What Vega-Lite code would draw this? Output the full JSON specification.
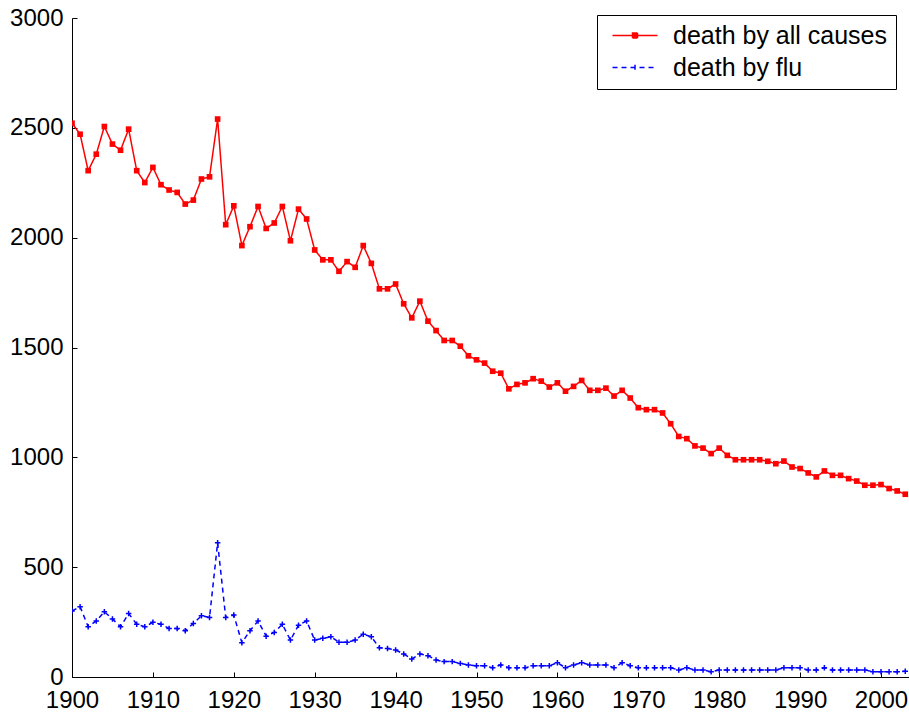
{
  "$schema": "https://vega.github.io/schema/vega-lite/v6.json",
  "width": 837,
  "height": 659,
  "autosize": {"type": "none"},
  "padding": {"left": 72, "top": 18, "right": 0, "bottom": 36},
  "background": "white",
  "config": {
    "view": {"stroke": null},
    "axis": {
      "domainColor": "black", "domainWidth": 1, "tickColor": "black", "tickWidth": 1,
      "tickSize": -5, "labelColor": "black", "labelFont": "Liberation Sans", "labelFontSize": 24,
      "grid": false, "title": null, "labelFlush": false, "labelOverlap": false, "labelBound": false
    }
  },
  "datasets": {
    "deaths": [
      {"year":1900,"series":"death by all causes","deaths":2521},{"year":1901,"series":"death by all causes","deaths":2471},{"year":1902,"series":"death by all causes","deaths":2305},{"year":1903,"series":"death by all causes","deaths":2380},{"year":1904,"series":"death by all causes","deaths":2506},{"year":1905,"series":"death by all causes","deaths":2426},{"year":1906,"series":"death by all causes","deaths":2398},{"year":1907,"series":"death by all causes","deaths":2494},{"year":1908,"series":"death by all causes","deaths":2305},{"year":1909,"series":"death by all causes","deaths":2251},
      {"year":1910,"series":"death by all causes","deaths":2320},{"year":1911,"series":"death by all causes","deaths":2241},{"year":1912,"series":"death by all causes","deaths":2217},{"year":1913,"series":"death by all causes","deaths":2206},{"year":1914,"series":"death by all causes","deaths":2153},{"year":1915,"series":"death by all causes","deaths":2171},{"year":1916,"series":"death by all causes","deaths":2267},{"year":1917,"series":"death by all causes","deaths":2277},{"year":1918,"series":"death by all causes","deaths":2540},{"year":1919,"series":"death by all causes","deaths":2059},
      {"year":1920,"series":"death by all causes","deaths":2145},{"year":1921,"series":"death by all causes","deaths":1964},{"year":1922,"series":"death by all causes","deaths":2050},{"year":1923,"series":"death by all causes","deaths":2142},{"year":1924,"series":"death by all causes","deaths":2042},{"year":1925,"series":"death by all causes","deaths":2067},{"year":1926,"series":"death by all causes","deaths":2142},{"year":1927,"series":"death by all causes","deaths":1986},{"year":1928,"series":"death by all causes","deaths":2130},{"year":1929,"series":"death by all causes","deaths":2085},
      {"year":1930,"series":"death by all causes","deaths":1944},{"year":1931,"series":"death by all causes","deaths":1899},{"year":1932,"series":"death by all causes","deaths":1899},{"year":1933,"series":"death by all causes","deaths":1847},{"year":1934,"series":"death by all causes","deaths":1891},{"year":1935,"series":"death by all causes","deaths":1865},{"year":1936,"series":"death by all causes","deaths":1964},{"year":1937,"series":"death by all causes","deaths":1883},{"year":1938,"series":"death by all causes","deaths":1767},{"year":1939,"series":"death by all causes","deaths":1767},
      {"year":1940,"series":"death by all causes","deaths":1789},{"year":1941,"series":"death by all causes","deaths":1699},{"year":1942,"series":"death by all causes","deaths":1635},{"year":1943,"series":"death by all causes","deaths":1711},{"year":1944,"series":"death by all causes","deaths":1620},{"year":1945,"series":"death by all causes","deaths":1577},{"year":1946,"series":"death by all causes","deaths":1532},{"year":1947,"series":"death by all causes","deaths":1532},{"year":1948,"series":"death by all causes","deaths":1506},{"year":1949,"series":"death by all causes","deaths":1462},
      {"year":1950,"series":"death by all causes","deaths":1444},{"year":1951,"series":"death by all causes","deaths":1429},{"year":1952,"series":"death by all causes","deaths":1392},{"year":1953,"series":"death by all causes","deaths":1383},{"year":1954,"series":"death by all causes","deaths":1312},{"year":1955,"series":"death by all causes","deaths":1332},{"year":1956,"series":"death by all causes","deaths":1339},{"year":1957,"series":"death by all causes","deaths":1358},{"year":1958,"series":"death by all causes","deaths":1347},{"year":1959,"series":"death by all causes","deaths":1320},
      {"year":1960,"series":"death by all causes","deaths":1339},{"year":1961,"series":"death by all causes","deaths":1301},{"year":1962,"series":"death by all causes","deaths":1323},{"year":1963,"series":"death by all causes","deaths":1350},{"year":1964,"series":"death by all causes","deaths":1305},{"year":1965,"series":"death by all causes","deaths":1305},{"year":1966,"series":"death by all causes","deaths":1315},{"year":1967,"series":"death by all causes","deaths":1279},{"year":1968,"series":"death by all causes","deaths":1305},{"year":1969,"series":"death by all causes","deaths":1270},
      {"year":1970,"series":"death by all causes","deaths":1226},{"year":1971,"series":"death by all causes","deaths":1217},{"year":1972,"series":"death by all causes","deaths":1217},{"year":1973,"series":"death by all causes","deaths":1202},{"year":1974,"series":"death by all causes","deaths":1153},{"year":1975,"series":"death by all causes","deaths":1095},{"year":1976,"series":"death by all causes","deaths":1085},{"year":1977,"series":"death by all causes","deaths":1052},{"year":1978,"series":"death by all causes","deaths":1042},{"year":1979,"series":"death by all causes","deaths":1017},
      {"year":1980,"series":"death by all causes","deaths":1042},{"year":1981,"series":"death by all causes","deaths":1009},{"year":1982,"series":"death by all causes","deaths":989},{"year":1983,"series":"death by all causes","deaths":989},{"year":1984,"series":"death by all causes","deaths":989},{"year":1985,"series":"death by all causes","deaths":989},{"year":1986,"series":"death by all causes","deaths":982},{"year":1987,"series":"death by all causes","deaths":971},{"year":1988,"series":"death by all causes","deaths":983},{"year":1989,"series":"death by all causes","deaths":956},
      {"year":1990,"series":"death by all causes","deaths":949},{"year":1991,"series":"death by all causes","deaths":929},{"year":1992,"series":"death by all causes","deaths":911},{"year":1993,"series":"death by all causes","deaths":938},{"year":1994,"series":"death by all causes","deaths":918},{"year":1995,"series":"death by all causes","deaths":918},{"year":1996,"series":"death by all causes","deaths":903},{"year":1997,"series":"death by all causes","deaths":892},{"year":1998,"series":"death by all causes","deaths":873},{"year":1999,"series":"death by all causes","deaths":873},
      {"year":2000,"series":"death by all causes","deaths":876},{"year":2001,"series":"death by all causes","deaths":858},{"year":2002,"series":"death by all causes","deaths":847},{"year":2003,"series":"death by all causes","deaths":832},
      {"year":1900,"series":"death by flu","deaths":300},{"year":1901,"series":"death by flu","deaths":320},{"year":1902,"series":"death by flu","deaths":229},{"year":1903,"series":"death by flu","deaths":255},{"year":1904,"series":"death by flu","deaths":297},{"year":1905,"series":"death by flu","deaths":264},{"year":1906,"series":"death by flu","deaths":229},{"year":1907,"series":"death by flu","deaths":289},{"year":1908,"series":"death by flu","deaths":240},{"year":1909,"series":"death by flu","deaths":229},
      {"year":1910,"series":"death by flu","deaths":249},{"year":1911,"series":"death by flu","deaths":240},{"year":1912,"series":"death by flu","deaths":221},{"year":1913,"series":"death by flu","deaths":221},{"year":1914,"series":"death by flu","deaths":211},{"year":1915,"series":"death by flu","deaths":244},{"year":1916,"series":"death by flu","deaths":279},{"year":1917,"series":"death by flu","deaths":271},{"year":1918,"series":"death by flu","deaths":611},{"year":1919,"series":"death by flu","deaths":271},
      {"year":1920,"series":"death by flu","deaths":282},{"year":1921,"series":"death by flu","deaths":156},{"year":1922,"series":"death by flu","deaths":211},{"year":1923,"series":"death by flu","deaths":255},{"year":1924,"series":"death by flu","deaths":186},{"year":1925,"series":"death by flu","deaths":203},{"year":1926,"series":"death by flu","deaths":240},{"year":1927,"series":"death by flu","deaths":168},{"year":1928,"series":"death by flu","deaths":236},{"year":1929,"series":"death by flu","deaths":255},
      {"year":1930,"series":"death by flu","deaths":168},{"year":1931,"series":"death by flu","deaths":176},{"year":1932,"series":"death by flu","deaths":183},{"year":1933,"series":"death by flu","deaths":158},{"year":1934,"series":"death by flu","deaths":158},{"year":1935,"series":"death by flu","deaths":168},{"year":1936,"series":"death by flu","deaths":195},{"year":1937,"series":"death by flu","deaths":183},{"year":1938,"series":"death by flu","deaths":133},{"year":1939,"series":"death by flu","deaths":130},
      {"year":1940,"series":"death by flu","deaths":123},{"year":1941,"series":"death by flu","deaths":105},{"year":1942,"series":"death by flu","deaths":82},{"year":1943,"series":"death by flu","deaths":105},{"year":1944,"series":"death by flu","deaths":97},{"year":1945,"series":"death by flu","deaths":77},{"year":1946,"series":"death by flu","deaths":70},{"year":1947,"series":"death by flu","deaths":70},{"year":1948,"series":"death by flu","deaths":62},{"year":1949,"series":"death by flu","deaths":55},
      {"year":1950,"series":"death by flu","deaths":51},{"year":1951,"series":"death by flu","deaths":51},{"year":1952,"series":"death by flu","deaths":42},{"year":1953,"series":"death by flu","deaths":55},{"year":1954,"series":"death by flu","deaths":42},{"year":1955,"series":"death by flu","deaths":42},{"year":1956,"series":"death by flu","deaths":42},{"year":1957,"series":"death by flu","deaths":51},{"year":1958,"series":"death by flu","deaths":51},{"year":1959,"series":"death by flu","deaths":51},
      {"year":1960,"series":"death by flu","deaths":65},{"year":1961,"series":"death by flu","deaths":42},{"year":1962,"series":"death by flu","deaths":55},{"year":1963,"series":"death by flu","deaths":65},{"year":1964,"series":"death by flu","deaths":55},{"year":1965,"series":"death by flu","deaths":55},{"year":1966,"series":"death by flu","deaths":55},{"year":1967,"series":"death by flu","deaths":42},{"year":1968,"series":"death by flu","deaths":65},{"year":1969,"series":"death by flu","deaths":51},
      {"year":1970,"series":"death by flu","deaths":42},{"year":1971,"series":"death by flu","deaths":42},{"year":1972,"series":"death by flu","deaths":42},{"year":1973,"series":"death by flu","deaths":42},{"year":1974,"series":"death by flu","deaths":42},{"year":1975,"series":"death by flu","deaths":32},{"year":1976,"series":"death by flu","deaths":42},{"year":1977,"series":"death by flu","deaths":32},{"year":1978,"series":"death by flu","deaths":32},{"year":1979,"series":"death by flu","deaths":24},
      {"year":1980,"series":"death by flu","deaths":32},{"year":1981,"series":"death by flu","deaths":32},{"year":1982,"series":"death by flu","deaths":32},{"year":1983,"series":"death by flu","deaths":32},{"year":1984,"series":"death by flu","deaths":32},{"year":1985,"series":"death by flu","deaths":32},{"year":1986,"series":"death by flu","deaths":32},{"year":1987,"series":"death by flu","deaths":32},{"year":1988,"series":"death by flu","deaths":42},{"year":1989,"series":"death by flu","deaths":42},
      {"year":1990,"series":"death by flu","deaths":42},{"year":1991,"series":"death by flu","deaths":32},{"year":1992,"series":"death by flu","deaths":32},{"year":1993,"series":"death by flu","deaths":42},{"year":1994,"series":"death by flu","deaths":32},{"year":1995,"series":"death by flu","deaths":32},{"year":1996,"series":"death by flu","deaths":32},{"year":1997,"series":"death by flu","deaths":32},{"year":1998,"series":"death by flu","deaths":32},{"year":1999,"series":"death by flu","deaths":24},
      {"year":2000,"series":"death by flu","deaths":24},{"year":2001,"series":"death by flu","deaths":24},{"year":2002,"series":"death by flu","deaths":24},{"year":2003,"series":"death by flu","deaths":26}
    ]
  },
  "data": {"name": "deaths"},
  "encoding": {
    "x": {"field": "year", "type": "quantitative",
      "scale": {"domain": [1900, 2003.46], "nice": false, "zero": false},
      "axis": {"values": [1900,1910,1920,1930,1940,1950,1960,1970,1980,1990,2000], "format": "d", "labelPadding": 16}},
    "y": {"field": "deaths", "type": "quantitative",
      "scale": {"domain": [0, 3000], "nice": false},
      "axis": {"values": [0,500,1000,1500,2000,2500,3000], "format": "d", "labelPadding": 14}}
  },
  "layer": [
    {
      "mark": {"type": "line", "strokeWidth": 1.5, "clip": true},
      "encoding": {
        "color": {"field": "series", "type": "nominal",
          "scale": {"domain": ["death by all causes", "death by flu"], "range": ["#ff0000", "#0000ff"]},
          "legend": {
            "title": null, "orient": "none", "legendX": 525, "legendY": -3,
            "strokeColor": "black", "fillColor": "white", "padding": 8, "cornerRadius": 0,
            "labelFont": "Liberation Sans", "labelFontSize": 25, "labelColor": "black", "labelLimit": 400,
            "symbolSize": 400, "symbolStrokeWidth": 1.5, "labelOffset": 43, "rowPadding": 6,
            "symbolType": "stroke",
            "encode": {"symbols": {"update": {
              "shape": {"signal": "datum.value === 'death by flu' ? 'M-0.5,0H4M1.75,-0.28V0.28' : 'M-0.5,0H4M1.5,-0.25H2V0.25H1.5Z'"},
              "fill": {"signal": "datum.value === 'death by flu' ? 'transparent' : '#ff0000'"}
            }}}
          }},
        "strokeDash": {"field": "series", "type": "nominal",
          "scale": {"domain": ["death by all causes", "death by flu"], "range": [[1, 0], [5, 4]]},
          "legend": {"title": null, "orient": "none", "legendX": 525, "legendY": -3}}
      }
    },
    {
      "transform": [{"filter": "datum.series === 'death by all causes'"}],
      "mark": {"type": "point", "shape": "square", "filled": true, "color": "#ff0000", "size": 32, "opacity": 1, "clip": true}
    },
    {
      "transform": [{"filter": "datum.series === 'death by flu'"}],
      "mark": {"type": "point", "shape": "M-1,0H1M0,-1V1", "filled": false, "stroke": "#0000ff", "strokeWidth": 1.5, "size": 30, "opacity": 1, "clip": true}
    }
  ]
}
